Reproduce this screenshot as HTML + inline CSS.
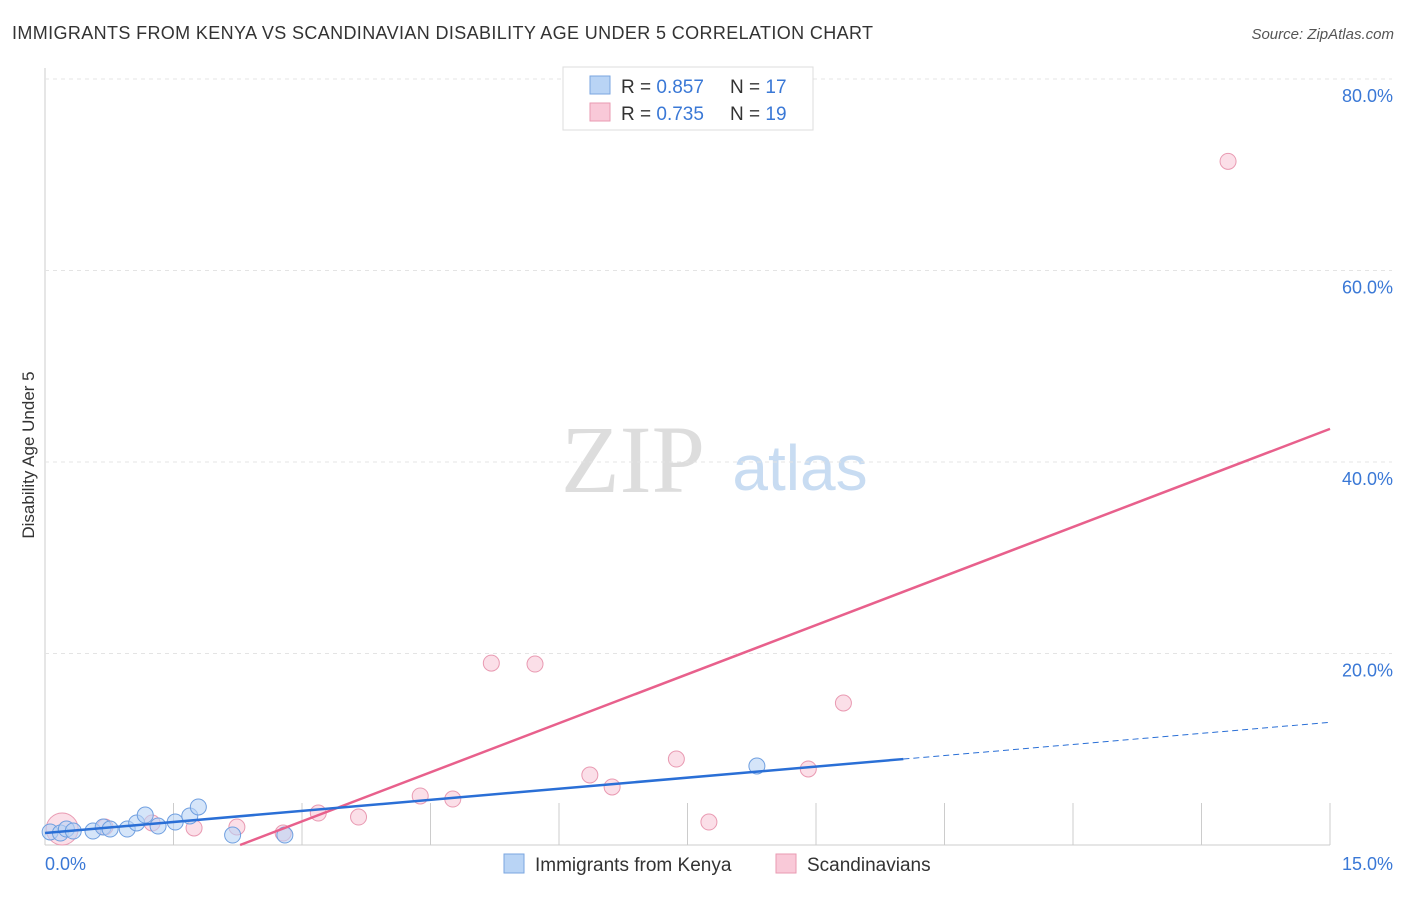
<!DOCTYPE html>
<html><head><meta charset="utf-8"><style>
body{margin:0;background:#fff;font-family:"Liberation Sans",sans-serif}
</style></head><body>
<svg width="1406" height="892" xmlns="http://www.w3.org/2000/svg" id="c" font-family="Liberation Sans, sans-serif">
<text x="12" y="39" font-size="18" textLength="861" fill="#333">IMMIGRANTS FROM KENYA VS SCANDINAVIAN DISABILITY AGE UNDER 5 CORRELATION CHART</text>
<text x="1394" y="39" font-size="15" fill="#555" font-style="italic" text-anchor="end">Source: ZipAtlas.com</text>
<text x="34" y="455" font-size="17" fill="#333" text-anchor="middle" transform="rotate(-90 34 455)">Disability Age Under 5</text>
<text x="633" y="492" font-size="96" fill="#ddd" font-family="Liberation Serif, serif" text-anchor="middle">ZIP</text>
<text x="800" y="490" font-size="64" fill="#c8dcf2" text-anchor="middle">atlas</text>
<g id="grid"></g><g id="marks"></g>
<g>
<rect x="563" y="67" width="250" height="63" fill="#fff" stroke="#ddd"/>
<rect x="590" y="76" width="20" height="18" fill="#b9d4f5" stroke="#7aa6e0"/>
<text x="621" y="93" font-size="19" fill="#333">R = <tspan fill="#3a78d6">0.857</tspan></text>
<text x="730" y="93" font-size="19" fill="#333">N = <tspan fill="#3a78d6">17</tspan></text>
<rect x="590" y="103" width="20" height="18" fill="#f9c9d8" stroke="#e99ab2"/>
<text x="621" y="120" font-size="19" fill="#333">R = <tspan fill="#3a78d6">0.735</tspan></text>
<text x="730" y="120" font-size="19" fill="#333">N = <tspan fill="#3a78d6">19</tspan></text>
</g>
<g>
<rect x="504" y="854" width="20" height="19" fill="#b9d4f5" stroke="#7aa6e0"/>
<text x="535" y="871" font-size="19" fill="#333">Immigrants from Kenya</text>
<rect x="776" y="854" width="20" height="19" fill="#f9c9d8" stroke="#e99ab2"/>
<text x="807" y="871" font-size="19" fill="#333">Scandinavians</text>
</g>
</svg>
<script>
const yTicks=[20,40,60,80];
const yTickLabels=["20.0%","40.0%","60.0%","80.0%"];
const xTicks=[0,1.5,3,4.5,6,7.5,9,10.5,12,13.5,15];
const kenyaX=[0.06,0.18,0.25,0.33,0.56,0.68,0.76,0.96,1.07,1.17,1.32,1.52,1.69,1.79,2.19,2.80,8.31];
const kenyaY=[1.36,1.25,1.67,1.46,1.46,1.88,1.67,1.67,2.30,3.13,1.98,2.40,3.03,3.97,1.04,1.04,8.25];
const scandX=[0.20,0.70,1.25,1.74,2.24,2.78,3.19,3.66,4.38,4.76,5.21,5.72,6.36,6.62,7.37,7.75,8.91,9.32,13.81];
const scandY=[1.67,1.88,2.30,1.78,1.88,1.25,3.34,2.92,5.12,4.80,19.0,18.9,7.31,6.06,8.98,2.40,7.94,14.83,71.4];
const kenyaFit=[1.25,0.771];
const scandFit=[-7.78,3.416];
const sx=v=>45+v/15*1285, sy=v=>845-v/20*191.5;
const NS="http://www.w3.org/2000/svg";
function mk(t,a,p){const e=document.createElementNS(NS,t);for(const k in a)e.setAttribute(k,a[k]);p.appendChild(e);return e;}
const g=document.getElementById('grid'),m=document.getElementById('marks');
let ax=mk('line',{x1:45,y1:68,x2:45,y2:845,stroke:'#ccc'},g);

let bx=mk('line',{x1:45,y1:845,x2:1330,y2:845,stroke:'#ccc'},g);

yTicks.forEach((t,i)=>{
 let l=mk('line',{x1:45,y1:sy(t),x2:1392,y2:sy(t),stroke:'#e4e4e4','stroke-dasharray':'4,4'},g);
 
 let tx=mk('text',{x:1393,y:sy(t)+23,'font-size':18,fill:'#3a78d6','text-anchor':'end'},g);tx.textContent=yTickLabels[i];
 
});
xTicks.forEach(t=>{let l=mk('line',{x1:sx(t),y1:803,x2:sx(t),y2:845,stroke:'#ccc'},g);
 });
let x0=mk('text',{x:45,y:870,'font-size':18,fill:'#3a78d6'},g);x0.textContent="0.0%";

let x1=mk('text',{x:1393,y:870,'font-size':18,fill:'#3a78d6','text-anchor':'end'},g);x1.textContent="15.0%";

scandX.forEach((x,i)=>{let c=mk('circle',{cx:sx(x),cy:sy(scandY[i]),r:i==0?16:8,fill:'#f9c9d8','fill-opacity':0.6,stroke:'#e99ab2'},m);
 });
kenyaX.forEach((x,i)=>{let c=mk('circle',{cx:sx(x),cy:sy(kenyaY[i]),r:8,fill:'#b9d4f5','fill-opacity':0.6,stroke:'#6f9fe0'},m);
 });
const xs0=-scandFit[0]/scandFit[1];
let pl=mk('line',{x1:sx(xs0),y1:sy(0),x2:sx(15),y2:sy(scandFit[0]+scandFit[1]*15),stroke:'#e8608c','stroke-width':2.5},m);

let kl=mk('line',{x1:sx(0),y1:sy(kenyaFit[0]),x2:sx(10.02),y2:sy(kenyaFit[0]+kenyaFit[1]*10.02),stroke:'#2a6fd6','stroke-width':2.5},m);

let kd=mk('line',{x1:sx(10.02),y1:sy(kenyaFit[0]+kenyaFit[1]*10.02),x2:sx(15),y2:sy(kenyaFit[0]+kenyaFit[1]*15),stroke:'#2a6fd6','stroke-width':1,'stroke-dasharray':'6,4'},m);

</script>
</body></html>
